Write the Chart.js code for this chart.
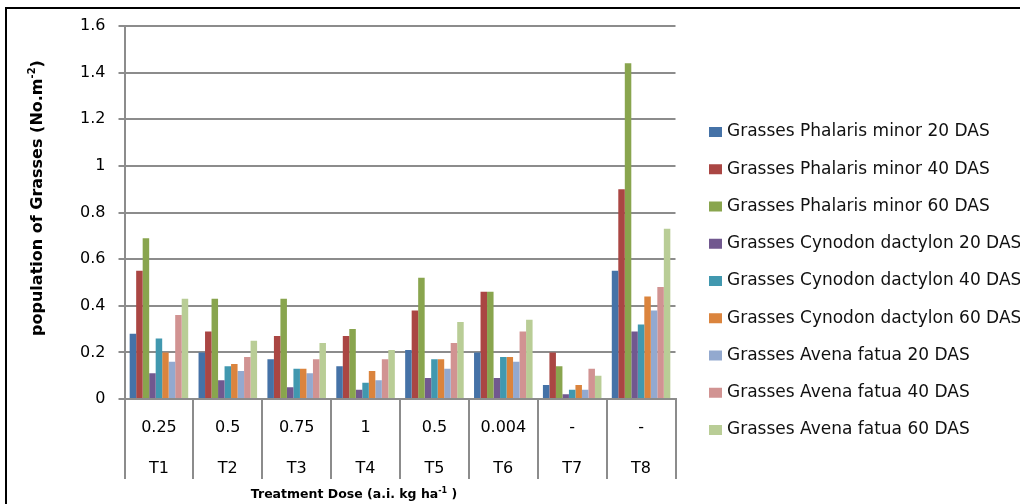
<!DOCTYPE html>
<html>
<head>
<meta charset="utf-8">
<script src="https://cdn.jsdelivr.net/npm/chart.js@4.4.1/dist/chart.umd.min.js"></script>
<style>
  html, body { margin: 0; padding: 0; background: #fff; }
  #wrap { position: relative; width: 1020px; height: 504px; overflow: hidden; }
  #frame { position: absolute; left: 5px; top: 7px; width: 1100px; height: 600px;
           border: 2px solid #000; box-sizing: border-box; pointer-events: none; }
  canvas { display: block; }
</style>
</head>
<body>
<div id="wrap">
  <canvas id="c" width="1020" height="504"></canvas>
  <div id="frame"></div>
</div>
<script>
// Treatments: dose (a.i. kg/ha) and treatment code
const doses = ['0.25', '0.5', '0.75', '1', '0.5', '0.004', '-', '-'];
const treatments = ['T1', 'T2', 'T3', 'T4', 'T5', 'T6', 'T7', 'T8'];

// Grass population (No. per m²) per treatment
const phalaris20 = [0.28, 0.20, 0.17, 0.14, 0.21, 0.20, 0.06, 0.55];
const phalaris40 = [0.55, 0.29, 0.27, 0.27, 0.38, 0.46, 0.20, 0.90];
const phalaris60 = [0.69, 0.43, 0.43, 0.30, 0.52, 0.46, 0.14, 1.44];
const cynodon20  = [0.11, 0.08, 0.05, 0.04, 0.09, 0.09, 0.02, 0.29];
const cynodon40  = [0.26, 0.14, 0.13, 0.07, 0.17, 0.18, 0.04, 0.32];
const cynodon60  = [0.20, 0.15, 0.13, 0.12, 0.17, 0.18, 0.06, 0.44];
const avena20    = [0.16, 0.12, 0.11, 0.08, 0.13, 0.16, 0.04, 0.38];
const avena40    = [0.36, 0.18, 0.17, 0.17, 0.24, 0.29, 0.13, 0.48];
const avena60    = [0.43, 0.25, 0.24, 0.21, 0.33, 0.34, 0.10, 0.73];

const seriesNames = [
  'Grasses Phalaris minor 20 DAS', 'Grasses Phalaris minor 40 DAS', 'Grasses Phalaris minor 60 DAS',
  'Grasses Cynodon dactylon 20 DAS', 'Grasses Cynodon dactylon 40 DAS', 'Grasses Cynodon dactylon 60 DAS',
  'Grasses Avena fatua 20 DAS', 'Grasses Avena fatua 40 DAS', 'Grasses Avena fatua 60 DAS'
];
const seriesValues = [phalaris20, phalaris40, phalaris60, cynodon20, cynodon40, cynodon60, avena20, avena40, avena60];
const seriesColors = ['#4572A7', '#AA4643', '#89A54E', '#71588F', '#4198AF', '#DB843D', '#93A9CF', '#D19392', '#B9CD96'];

// Value axis ticks and their printed labels
const yTickValues = [0, 0.2, 0.4, 0.6, 0.8, 1, 1.2, 1.4, 1.6];
const yTickLabels = ['0', '0.2', '0.4', '0.6', '0.8', '1', '1.2', '1.4', '1.6'];

const FONT = '"DejaVu Sans", sans-serif';
const GRID = '#8c8c8c';

// Right-hand legend, one row per series
const sideLegend = {
  id: 'sideLegend',
  afterDraw(chart) {
    const ctx = chart.ctx;
    ctx.save();
    ctx.font = '17px ' + FONT;
    ctx.textBaseline = 'middle';
    ctx.textAlign = 'left';
    chart.data.datasets.forEach((ds, i) => {
      const y = 132 + i * 37.25;
      ctx.fillStyle = ds.backgroundColor;
      ctx.fillRect(709, y - 5, 13, 10);
      ctx.fillStyle = '#111';
      ctx.fillText(ds.label, 727, y);
    });
    ctx.restore();
  }
};

// Axis titles with superscript units
function drawSupText(ctx, parts, size) {
  let total = 0;
  parts.forEach(([t, sup]) => {
    ctx.font = 'bold ' + (sup ? Math.round(size * 0.62) : size) + 'px ' + FONT;
    total += ctx.measureText(t).width;
  });
  let x = -total / 2;
  parts.forEach(([t, sup]) => {
    ctx.font = 'bold ' + (sup ? Math.round(size * 0.62) : size) + 'px ' + FONT;
    ctx.fillText(t, x, sup ? -size * 0.35 : 0);
    x += ctx.measureText(t).width;
  });
}
const axisTitles = {
  id: 'axisTitles',
  afterDraw(chart) {
    const ctx = chart.ctx;
    ctx.save();
    ctx.fillStyle = '#000';
    ctx.textBaseline = 'middle';
    ctx.textAlign = 'left';
    ctx.translate(38, 198);
    ctx.rotate(-Math.PI / 2);
    drawSupText(ctx, [['population of Grasses (No.m', false], ['-2', true], [')', false]], 16);
    ctx.restore();
    ctx.save();
    ctx.fillStyle = '#000';
    ctx.textBaseline = 'middle';
    ctx.textAlign = 'left';
    ctx.translate(354, 495);
    drawSupText(ctx, [['Treatment Dose (a.i. kg ha', false], ['-1', true], [' )', false]], 12.5);
    ctx.restore();
  }
};

function drawChart() {
  new Chart(document.getElementById('c'), {
    type: 'bar',
    data: {
      labels: doses.map((d, i) => [d, treatments[i]]),
      datasets: seriesNames.map((name, i) => ({
        label: name,
        data: seriesValues[i],
        backgroundColor: seriesColors[i],
        borderWidth: 0,
        categoryPercentage: 0.85,
        barPercentage: 1.0
      }))
    },
    options: {
      responsive: false,
      animation: false,
      layout: { padding: { top: 26, right: 344.5, left: 0, bottom: 0 } },
      plugins: { legend: { display: false }, tooltip: { enabled: false } },
      scales: {
        x: {
          grid: { display: true, offset: true, drawOnChartArea: false, drawTicks: true,
                  tickLength: 80, color: GRID, lineWidth: 2 },
          border: { display: true, color: GRID, width: 2 },
          ticks: { color: '#000', font: { family: FONT, size: 16, lineHeight: 2.58 },
                   padding: -72, maxRotation: 0, autoSkip: false },
          afterFit(scale) { scale.height = 105; }
        },
        y: {
          min: 0, max: 1.6,
          afterBuildTicks(scale) { scale.ticks = yTickValues.map(v => ({ value: v })); },
          grid: { color: GRID, lineWidth: 2, tickLength: 6 },
          border: { display: true, color: GRID, width: 2 },
          ticks: { color: '#000', font: { family: FONT, size: 16 }, padding: 13,
                   callback: (v, i) => yTickLabels[i] },
          afterFit(scale) { scale.width = 124.5; }
        }
      }
    },
    plugins: [sideLegend, axisTitles]
  });
}

// Make sure the system face is resolved before the first paint
Promise.all([
  document.fonts.load('16px "DejaVu Sans"'),
  document.fonts.load('bold 16px "DejaVu Sans"')
]).catch(() => {}).then(drawChart);
</script>
</body>
</html>
